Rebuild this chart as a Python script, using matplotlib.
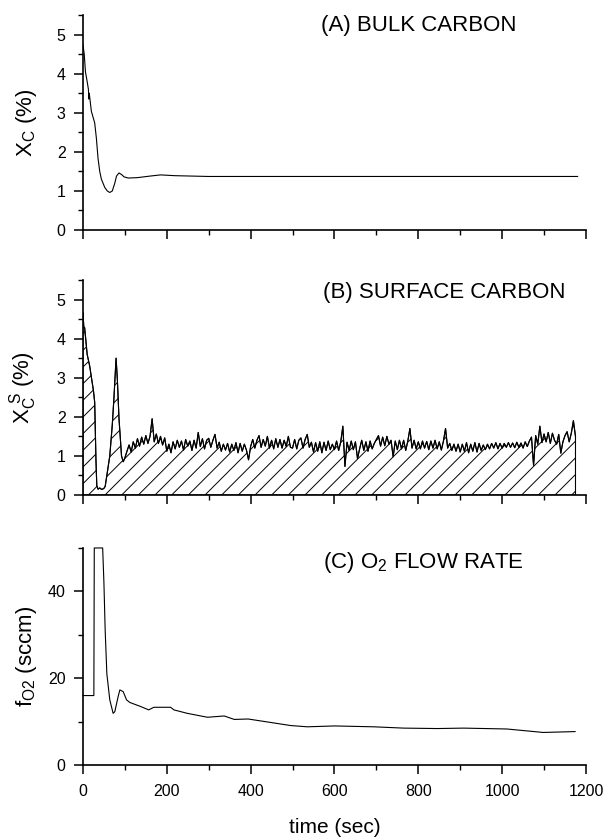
import numpy as np
import matplotlib
matplotlib.use('Agg')
import matplotlib.pyplot as plt
from matplotlib.ticker import MultipleLocator

plt.rcParams['font.family'] = ['Liberation Sans', 'DejaVu Sans']
plt.rcParams['hatch.linewidth'] = 0.7

# (A) bulk carbon, X_C (%)
t_bulk = [0, 3, 6, 10, 13, 14, 15, 20, 28, 32, 36, 40, 44, 52, 58, 64, 70, 76, 80,
          86, 92, 98, 108, 130, 160, 185, 220, 300, 400, 600, 800, 1000, 1180]
x_bulk = [4.74, 4.5, 4.04, 3.8, 3.6, 3.35, 3.5, 3.04, 2.74, 2.35, 1.83, 1.5, 1.3, 1.09,
          1.0, 0.96, 1.0, 1.2, 1.38, 1.46, 1.42, 1.36, 1.33, 1.34, 1.38, 1.41, 1.39,
          1.37, 1.37, 1.37, 1.37, 1.37, 1.37]

# (B) surface carbon, X_C^S (%) -- first 100 s
t_surf_start = [0, 2, 4, 10, 16, 22, 25, 28, 31, 33, 36, 40, 45, 50, 53, 57, 64, 70,
                74, 77, 79, 82, 86, 92, 96]
x_surf_start = [4.66, 4.3, 4.28, 3.6, 3.3, 2.88, 2.67, 2.37, 0.9, 0.24, 0.15, 0.18,
                0.14, 0.17, 0.22, 0.5, 1.0, 1.8, 2.5, 3.1, 3.5, 2.97, 1.95, 1.0, 0.85]
# then every 5 s from 100 s to 1175 s
t_surf_noise = np.arange(100, 1180, 5)
x_surf_noise = [
    0.95, 1.12, 1.28, 1.10, 1.36, 1.20, 1.44, 1.25, 1.48, 1.30, 1.52, 1.32, 1.50, 1.95, 1.36, 1.56, 1.32, 1.50, 1.28, 1.46,
    1.12, 1.30, 1.08, 1.36, 1.18, 1.40, 1.22, 1.38, 1.15, 1.42, 1.25, 1.38, 1.14, 1.40, 1.20, 1.60, 1.24, 1.44, 1.18, 1.40,
    1.45, 1.22, 1.40, 1.55, 1.20, 1.35, 1.12, 1.30, 1.15, 1.32, 1.10, 1.30, 1.14, 1.34, 1.08, 1.32, 1.12, 1.30, 1.15, 0.90,
    1.24, 1.42, 1.20, 1.40, 1.52, 1.22, 1.42, 1.25, 1.50, 1.20, 1.40, 1.18, 1.44, 1.22, 1.42, 1.20, 1.40, 1.24, 1.50, 1.22,
    1.20, 1.42, 1.18, 1.40, 1.46, 1.20, 1.42, 1.55, 1.22, 1.35, 1.10, 1.34, 1.12, 1.36, 1.08, 1.35, 1.14, 1.38, 1.16, 1.30,
    1.16, 1.38, 1.14, 1.36, 1.76, 0.73, 1.35, 1.14, 1.38, 1.16, 1.36, 0.93, 1.18, 1.40, 1.14, 1.36, 1.12, 1.38, 1.18, 1.32,
    1.42, 1.52, 1.25, 1.48, 1.26, 1.50, 1.30, 1.40, 0.98, 1.38, 1.16, 1.40, 1.18, 1.40, 1.14, 1.38, 1.70, 1.20, 1.40, 1.18,
    1.36, 1.18, 1.38, 1.20, 1.37, 1.16, 1.38, 1.20, 1.40, 1.18, 1.36, 1.15, 1.38, 1.70, 1.20, 1.32, 1.14, 1.30, 1.12, 1.30,
    1.10, 1.30, 1.12, 1.34, 1.08, 1.30, 1.12, 1.34, 1.10, 1.32, 1.14, 1.28, 1.16, 1.30, 1.18, 1.32, 1.20, 1.34, 1.18, 1.32,
    1.20, 1.32, 1.22, 1.34, 1.22, 1.33, 1.21, 1.35, 1.22, 1.33, 1.20, 1.36, 1.24, 1.38, 1.48, 0.76, 1.52, 1.30, 1.76, 1.34,
    1.56, 1.36, 1.60, 1.32, 1.58, 1.40, 1.30, 1.55, 1.07, 1.36, 1.52, 1.62, 1.36, 1.58, 1.90, 1.50,
]
t_surf = np.concatenate([t_surf_start, t_surf_noise])
x_surf = np.concatenate([x_surf_start, x_surf_noise])

# (C) O2 flow rate (sccm)
t_o2 = [0, 26, 27, 47, 50, 53, 57, 64, 72, 76, 84, 88, 96, 104, 112, 137, 157, 169,
        209, 217, 249, 297, 337, 361, 394, 448, 495, 535, 600, 694, 765, 845, 908,
        1011, 1098, 1174]
f_o2 = [16, 16, 50, 50, 42, 31, 21, 15, 11.9, 12.3, 15.8, 17.3, 16.9, 15, 14.4, 13.5,
        12.7, 13.3, 13.3, 12.7, 11.9, 11, 11.3, 10.5, 10.6, 9.8, 9.1, 8.8, 9, 8.8,
        8.5, 8.4, 8.5, 8.3, 7.5, 7.7]

fig = plt.figure(figsize=(6.1, 8.38), dpi=100)
ax_a = fig.add_axes([0.136, 0.7255, 0.8246, 0.2566])
ax_b = fig.add_axes([0.136, 0.4093, 0.8246, 0.2566])
ax_c = fig.add_axes([0.136, 0.0871, 0.8246, 0.259])

lw = 0.8
ax_a.plot(t_bulk, x_bulk, color='black', lw=lw)
ax_b.fill_between(t_surf, 0, x_surf, facecolor='white', edgecolor='black',
                  hatch='//', lw=lw)
ax_b.plot(t_surf, x_surf, color='black', lw=lw)
ax_c.plot(t_o2, f_o2, color='black', lw=lw, clip_on=False)

for ax in (ax_a, ax_b, ax_c):
    ax.set_xlim(0, 1200)
    ax.spines['top'].set_visible(False)
    ax.spines['right'].set_visible(False)
    ax.spines['left'].set_linewidth(1.2)
    ax.spines['bottom'].set_linewidth(1.2)
    ax.xaxis.set_major_locator(MultipleLocator(200))
    ax.xaxis.set_minor_locator(MultipleLocator(100))
    ax.tick_params(which='major', direction='out', length=6.5, width=1.1,
                   labelsize=11.5, pad=6)
    ax.tick_params(which='minor', direction='out', length=3.8, width=1.0)
    ax.yaxis.set_label_coords(-0.087, 0.5)

for ax in (ax_a, ax_b):
    ax.set_ylim(0, 5.5)
    ax.yaxis.set_major_locator(MultipleLocator(1))
    ax.yaxis.set_minor_locator(MultipleLocator(0.5))
    ax.tick_params(axis='x', labelbottom=False)

ax_c.set_ylim(0, 50)
ax_c.yaxis.set_major_locator(MultipleLocator(20))
ax_c.yaxis.set_minor_locator(MultipleLocator(10))
ax_c.tick_params(axis='x', pad=7)

ax_a.set_ylabel(r'X$_\mathregular{C}$ (%)', fontsize=16)
ax_b.set_ylabel(r'X$_\mathregular{C}^{\ \mathregular{S}}$ (%)', fontsize=16)
ax_c.set_ylabel(r'f$_\mathregular{O2}$ (sccm)', fontsize=16)
ax_c.set_xlabel('time (sec)', fontsize=15, labelpad=14)

ax_a.text(800, 0.949 * 5.5, '(A) BULK CARBON', fontsize=16, ha='center', va='center')
ax_b.text(861, 0.94 * 5.5, '(B) SURFACE CARBON', fontsize=16, ha='center', va='center')
ax_c.text(812, 0.935 * 50, r'(C) O$_\mathregular{2}$ FLOW RATE', fontsize=16,
          ha='center', va='center')

fig.savefig('out.png', dpi=100)
